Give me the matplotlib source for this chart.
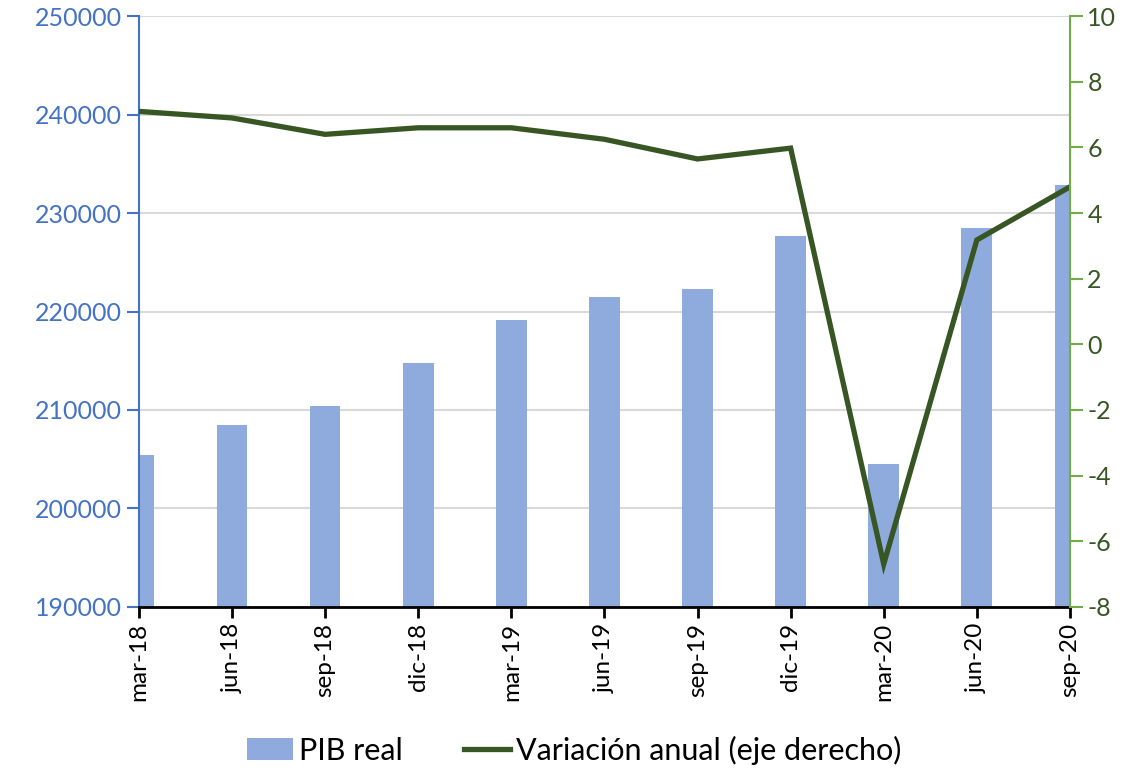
import matplotlib.pyplot as plt
import numpy as np

plt.rcParams['font.family'] = ['Lato', 'DejaVu Sans']
plt.rcParams['axes.unicode_minus'] = False

periods = ['mar-18', 'jun-18', 'sep-18', 'dic-18', 'mar-19', 'jun-19',
           'sep-19', 'dic-19', 'mar-20', 'jun-20', 'sep-20']
pib_real = [205400, 208500, 210400, 214800, 219100, 221500,
            222300, 227700, 204500, 228500, 232900]
variacion = [7.1, 6.9, 6.4, 6.6, 6.6, 6.25, 5.65, 5.98, -6.7, 3.18, 4.8]

BLUE_TXT = '#4472C4'
BAR = '#8FAADC'
LINE = '#375623'
GREEN_AX = '#70AD47'


def drawChart():
    fig = plt.figure(figsize=(11.48, 7.73), dpi=100)
    ax = fig.add_axes([0.121, 0.215, 0.811, 0.764])
    x = np.arange(len(periods))

    ax.bar(x, pib_real, width=0.33, color=BAR, zorder=2,
           label='PIB real')
    ax.set_ylim(190000, 250000)
    ax.set_yticks(np.arange(190000, 250001, 10000))
    ax.set_xlim(0, len(periods) - 1)
    ax.set_xticks(x)
    ax.set_xticklabels(periods, rotation=90, fontsize=17.5)
    ax.grid(axis='y', color='#D9D9D9', lw=1.5, zorder=0)
    ax.set_axisbelow(True)
    ax.tick_params(axis='y', colors=BLUE_TXT, labelsize=18, length=9, width=1.5)
    ax.tick_params(axis='x', length=8, width=2, colors='black')
    ax.spines['left'].set_color(BLUE_TXT)
    ax.spines['left'].set_linewidth(1.5)
    ax.spines['bottom'].set_linewidth(2)
    ax.spines['top'].set_visible(False)
    ax.spines['right'].set_visible(False)

    ax2 = ax.twinx()
    ax2.plot(x, variacion, color=LINE, lw=3.8, solid_joinstyle='miter',
             label='Variación anual (eje derecho)')
    ax2.set_ylim(-8, 10)
    ax2.set_yticks(np.arange(-8, 11, 2))
    ax2.tick_params(axis='y', colors=GREEN_AX, labelcolor=LINE, labelsize=18,
                    length=9, width=1.5)
    ax2.spines['right'].set_color(GREEN_AX)
    ax2.spines['right'].set_linewidth(1.5)
    for s in ['top', 'left', 'bottom']:
        ax2.spines[s].set_visible(False)

    h1, l1 = ax.get_legend_handles_labels()
    h2, l2 = ax2.get_legend_handles_labels()
    fig.legend(h1 + h2, l1 + l2, loc='lower center', ncol=2, frameon=False,
               fontsize=22, bbox_to_anchor=(0.5, -0.025), handlelength=1.5,
               columnspacing=2.0, handletextpad=0.2)

    fig.savefig('out.png', dpi=100)


drawChart()
